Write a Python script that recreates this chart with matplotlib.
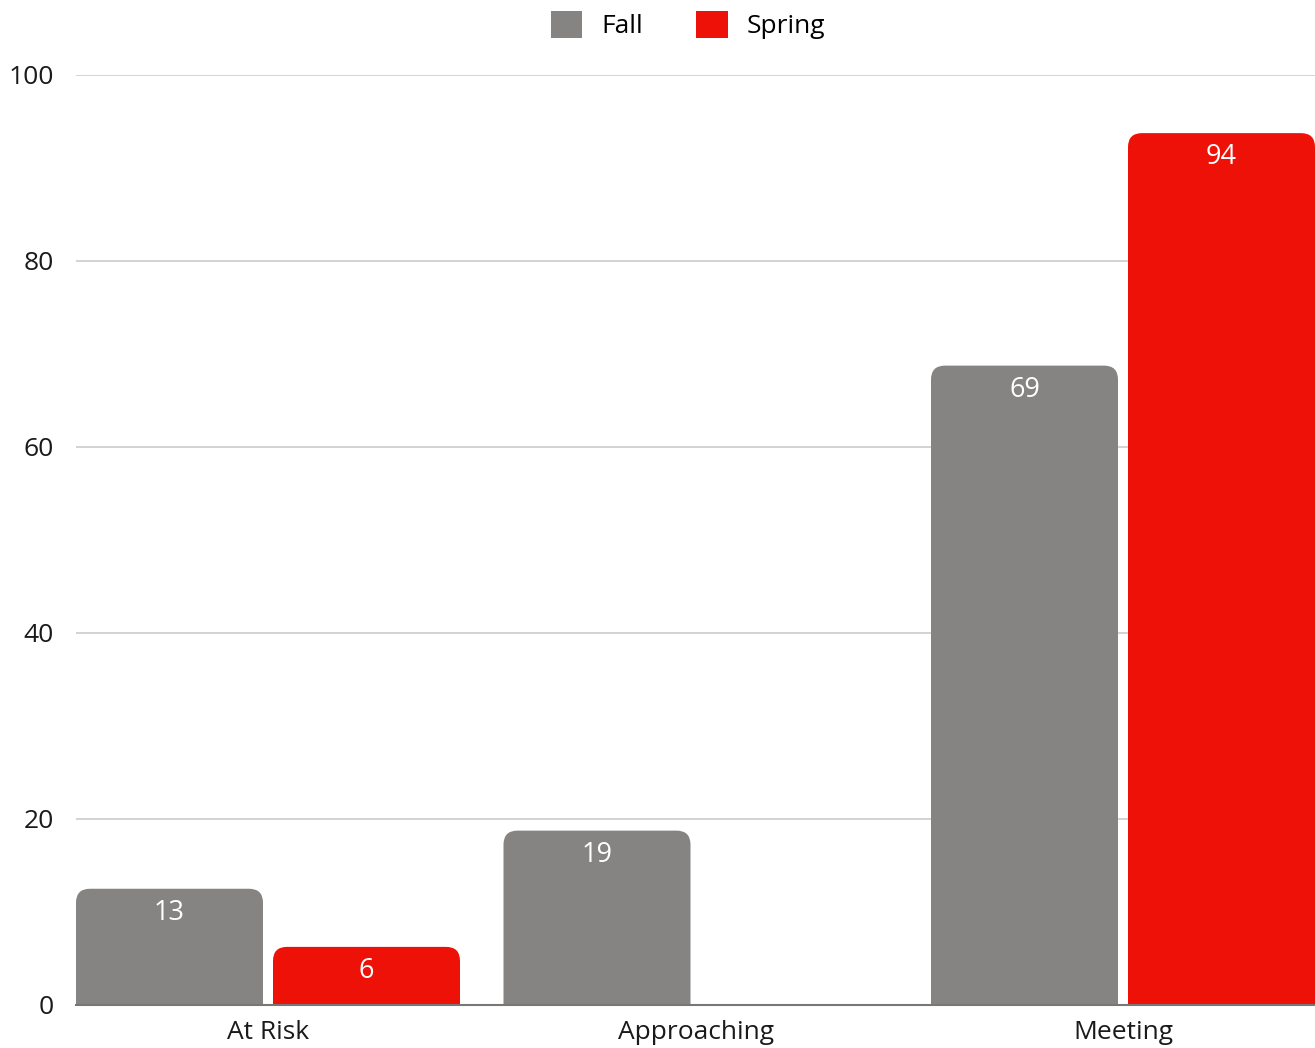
import matplotlib.pyplot as plt
import numpy as np
from matplotlib.patches import PathPatch, Patch
from matplotlib.path import Path

categories = ["At Risk", "Approaching", "Meeting"]
# shares out of 16 students, shown rounded on the bars
fall = [12.5, 18.75, 68.75]
spring = [6.25, 0, 93.75]
series_names = ["Fall", "Spring"]
colors = ["#858482", "#ee1108"]
yticks = [0, 20, 40, 60, 80, 100]

plt.rcParams['font.family'] = ['Open Sans', 'DejaVu Sans']

W, H = 1315, 1048
fig = plt.figure(figsize=(W / 100, H / 100), dpi=100)
ax = fig.add_axes([76 / W, 43 / H, 1 - 76 / W, (1005 - 75) / H])

bw = 187 / 427.5
gap = 10 / 427.5
offs = [-(bw + gap) / 2, (bw + gap) / 2]
xlo = offs[0] - bw / 2
xhi = len(categories) - 1 + offs[1] + bw / 2
ax.set_xlim(xlo, xhi)
ax.set_ylim(0, 100)

# pixel sizes in data units, for the rounded tops
px_x = (xhi - xlo) / (W - 76)
px_y = 100 / 930
rx, ry = 14 * px_x, 14 * px_y


def round_top_bar(left, width, top):
    right = left + width
    r_y = min(ry, top)
    verts = [(left, 0), (left, top - r_y), (left, top), (left + rx, top),
             (right - rx, top), (right, top), (right, top - r_y),
             (right, 0), (left, 0)]
    codes = [Path.MOVETO, Path.LINETO, Path.CURVE3, Path.CURVE3,
             Path.LINETO, Path.CURVE3, Path.CURVE3, Path.LINETO, Path.CLOSEPOLY]
    return Path(verts, codes)


x = np.arange(len(categories))
for vals, off, col in zip([fall, spring], offs, colors):
    for xi, v in zip(x, vals):
        if v <= 0:
            continue
        left = xi + off - bw / 2
        ax.add_patch(PathPatch(round_top_bar(left, bw, v), fc=col, ec="none", zorder=2))
        ax.text(xi + off, v - 24 * px_y, str(int(v + 0.5)), ha="center", va="center",
                color="white", fontsize=19.5, zorder=3)

ax.set_yticks(yticks)
ax.set_xticks(x)
ax.set_xticklabels(categories)
ax.tick_params(length=0, labelsize=19, colors="#1a1a1a")
ax.tick_params(axis="y", pad=16)
ax.tick_params(axis="x", pad=11)
ax.grid(axis="y", color="#cccccc", linewidth=1.2, zorder=0)
ax.set_axisbelow(True)
for s in ["top", "right", "left"]:
    ax.spines[s].set_visible(False)
ax.spines["bottom"].set_color("#777777")
ax.spines["bottom"].set_linewidth(1.5)
ax.spines["bottom"].set_zorder(4)

handles = [Patch(fc=c, ec="none") for c in colors]
fig.legend(handles, series_names, loc="center", bbox_to_anchor=(688 / W, 1 - 25 / H),
           ncol=2, frameon=False, fontsize=19, handlelength=1.21, handleheight=1.21,
           handletextpad=0.72, columnspacing=2.0)

fig.savefig("out.png", dpi=100, facecolor="white")
